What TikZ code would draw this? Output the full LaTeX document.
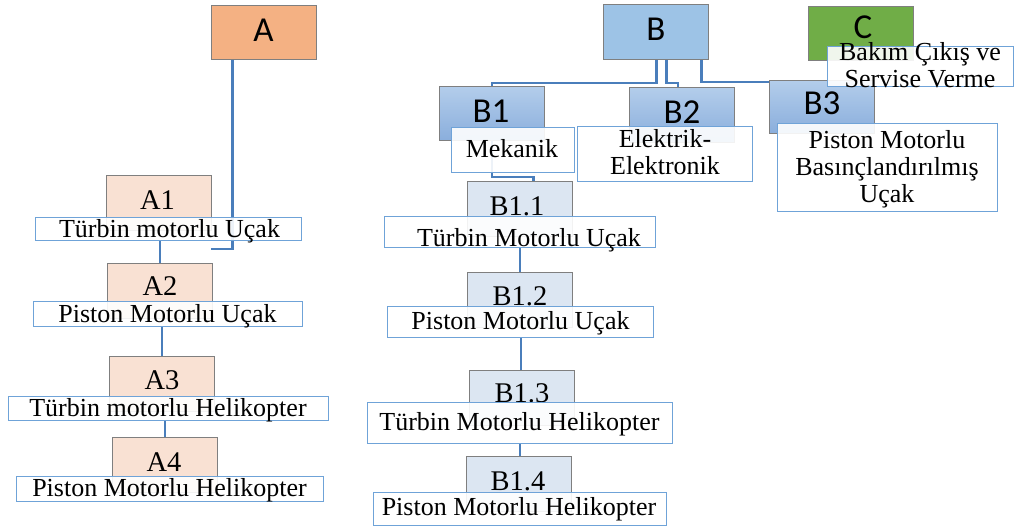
\documentclass[tikz,border=0pt]{standalone}
\usepackage{fontspec}
\setmainfont{Liberation Serif}
\newfontfamily\calib{Carlito}
\definecolor{aorange}{HTML}{F4B183}
\definecolor{apeach}{HTML}{F9E1D3}
\definecolor{bblue}{HTML}{9DC3E6}
\definecolor{bgtop}{HTML}{B3CDEB}
\definecolor{bgbot}{HTML}{8AAEDC}
\definecolor{blight}{HTML}{DCE6F2}
\definecolor{cgreen}{HTML}{70AD47}
\definecolor{boxline}{HTML}{7F7F7F}
\definecolor{tbline}{HTML}{6FA3D8}
\definecolor{connc}{HTML}{4A7EBB}
\begin{document}
\begin{tikzpicture}[x=1pt,y=-1pt,
  shapebox/.style={draw=boxline, line width=0.9pt, inner sep=0pt, anchor=north west},
  abox/.style={shapebox, fill=apeach, minimum width=105pt, minimum height=55pt},
  gbox/.style={shapebox, top color=bgtop, bottom color=bgbot, minimum width=105pt, minimum height=54pt},
  lbox/.style={shapebox, fill=blight, minimum width=105pt, minimum height=55pt},
  tbox/.style={draw=tbline, line width=1.4pt, fill=white, fill opacity=0.9, inner sep=0pt, anchor=north west},
  txt/.style={inner sep=0pt, anchor=base, align=center, font=\fontsize{26}{27}\selectfont},
  serlab/.style={inner sep=0pt, anchor=base, font=\fontsize{28.5}{30}\selectfont},
  sanslab/.style={inner sep=0pt, anchor=base, font=\calib\fontsize{35}{36}\selectfont},
  conn/.style={draw=connc, line width=2.2pt}]
\useasboundingbox (0,0) rectangle (1016,530);

% ---------- top level boxes ----------
\node[shapebox, fill=aorange, minimum width=105pt, minimum height=54pt] (A) at (211,5) {};
\node[shapebox, fill=bblue, minimum width=105pt, minimum height=55pt] (B) at (603,4) {};
\node[shapebox, fill=cgreen, minimum width=105pt, minimum height=54pt] (C) at (808,6) {};

% ---------- second level ----------
\node[abox] (A1) at (106,175) {};
\node[abox] (A2) at (107,263) {};
\node[abox] (A3) at (109,356) {};
\node[abox] (A4) at (112,437) {};

\node[gbox] (B1) at (439,86) {};
\node[gbox, minimum height=55pt] (B2) at (629,87) {};
\node[gbox, minimum height=53pt] (B3) at (769,80) {};

\node[lbox] (B11) at (467,181) {};
\node[lbox] (B12) at (467,272) {};
\node[lbox] (B13) at (469,370) {};
\node[lbox] (B14) at (466,456) {};

% ---------- box labels (under the description boxes) ----------
\node[sanslab] (Al) at (263.5,41.7) {A};
\node[sanslab] (Bl) at (656,40) {B};
\node[sanslab] (Cl) at (863,38) {C};
\node[sanslab] (B1l) at (491,122) {B1};
\node[sanslab] (B2l) at (682,123) {B2};
\node[sanslab] (B3l) at (822,114) {B3};

\node[serlab] (A1l) at (157.5,209) {A1};
\node[serlab] (A2l) at (160,295) {A2};
\node[serlab] (A3l) at (162,389) {A3};
\node[serlab] (A4l) at (164,471) {A4};

\node[serlab] (B11l) at (517,215) {B1.1};
\node[serlab] (B12l) at (520,305) {B1.2};
\node[serlab] (B13l) at (522,402) {B1.3};
\node[serlab] (B14l) at (518,490) {B1.4};

% ---------- connectors ----------
\coordinate (Aend) at (211,249);
\draw[conn] ([xshift=-31.5pt]A.south) |- (Aend);
\draw[conn] ([xshift=0.5pt]B.south) -- ++(0,23) -| (B1.north);
\draw[conn] ([xshift=10.5pt]B.south) -- ++(0,23) -| ([xshift=-4pt]B2.north);
\draw[conn] ([xshift=45.5pt]B.south) |- ([yshift=-2pt]B3.north west);
\draw[conn] (B1.south) -- ++(0,36) -| ([xshift=13.5pt]B11.north);

% ---------- description boxes ----------
\node[tbox, minimum width=266pt, minimum height=23pt] (T1) at (35,217) {};
\node[tbox, minimum width=269pt, minimum height=25pt] (T2) at (33,301) {};
\node[tbox, minimum width=320pt, minimum height=24pt] (T3) at (8,396) {};
\node[tbox, minimum width=307pt, minimum height=25pt] (T4) at (16,476) {};

\node[tbox, minimum width=123pt, minimum height=45pt] (TB1) at (451,127) {};
\node[tbox, minimum width=175pt, minimum height=55pt] (TB2) at (577,126) {};
\node[tbox, minimum width=220pt, minimum height=88pt] (TB3) at (777,123) {};
\node[tbox, minimum width=186pt, minimum height=40pt] (TC) at (827,46) {};

\node[tbox, minimum width=271pt, minimum height=31pt] (T11) at (384,216) {};
\node[tbox, minimum width=266pt, minimum height=31pt] (T12) at (387,306) {};
\node[tbox, minimum width=305pt, minimum height=41pt] (T13) at (367,402) {};
\node[tbox, minimum width=293pt, minimum height=33pt] (T14) at (373,492) {};

\draw[conn] (T1.south -| A2.north) -- (A2.north);
\draw[conn] (T2.south -| A3.north) -- (A3.north);
\draw[conn] (T3.south -| A4.north) -- (A4.north);
\draw[conn] (T11.south) -- (T11.south |- B12.north);
\draw[conn] (T12.south) -- (T12.south |- B13.north);
\draw[conn] (T13.south) -- (T13.south |- B14.north);

% ---------- descriptions (multi-line ones sit on their last baseline) ----------
\node[txt] (T1t) at (169.5,237) {Türbin motorlu Uçak};
\node[txt] (T2t) at (167.5,322) {Piston Motorlu Uçak};
\node[txt] (T3t) at (168,416) {Türbin motorlu Helikopter};
\node[txt] (T4t) at (169.5,496) {Piston Motorlu Helikopter};

\node[txt] (TB1t) at (512,157) {Mekanik};
\node[txt] (TB2t) at (665,174) {Elektrik-\\Elektronik};
\node[txt] (TB3t) at (887,202) {Piston Motorlu\\Basınçlandırılmış\\Uçak};
\node[txt] (TCt) at (920,87) {Bakım Çıkış ve\\Servise Verme};

\node[txt] (T11t) at (529,246) {Türbin Motorlu Uçak};
\node[txt] (T12t) at (520.5,329) {Piston Motorlu Uçak};
\node[txt] (T13t) at (519.5,430) {Türbin Motorlu Helikopter};
\node[txt] (T14t) at (519,515) {Piston Motorlu Helikopter};
\end{tikzpicture}
\end{document}
